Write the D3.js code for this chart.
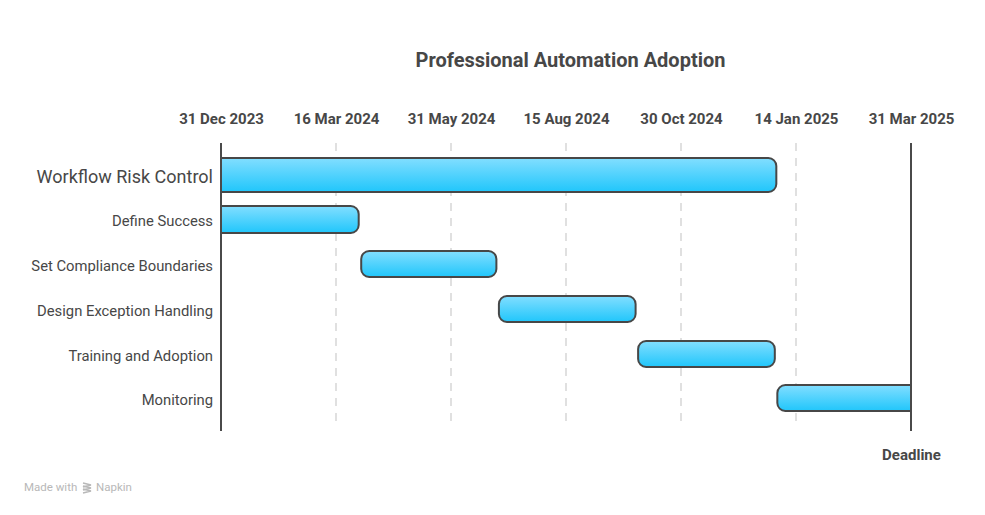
<!DOCTYPE html>
<html><head><meta charset="utf-8">
<script src="https://cdn.jsdelivr.net/npm/d3@7"></script>
<style>body{margin:0;background:#fff;font-family:Roboto,sans-serif}</style>
</head><body>
<svg id="chart" width="985" height="515"></svg>
<script>
const title = "Professional Automation Adoption";
const tasks = ["Workflow Risk Control","Define Success","Set Compliance Boundaries","Design Exception Handling","Training and Adoption","Monitoring"];
const starts = ["2023-12-31","2023-12-31","2024-04-01","2024-07-01","2024-10-01","2025-01-01"];
const ends = ["2025-01-01","2024-03-31","2024-06-30","2024-09-30","2024-12-31","2025-03-31"];
const tickDates = ["2023-12-31","2024-03-16","2024-05-31","2024-08-15","2024-10-30","2025-01-14","2025-03-31"];
const deadlineLabel = "Deadline";

const parse = d3.utcParse("%Y-%m-%d");
const fmt = d3.utcFormat("%-d %b %Y");
const svg = d3.select("#chart");
const domainStart = parse(tickDates[0]), domainEnd = parse(tickDates[tickDates.length-1]);
const x = d3.scaleUtc().domain([domainStart, domainEnd]).range([221, 911]);

const defs = svg.append("defs");
const grad = defs.append("linearGradient").attr("id","barGrad").attr("x1",0).attr("y1",0).attr("x2",0).attr("y2",1);
grad.append("stop").attr("offset","0%").attr("stop-color","#82deff");
grad.append("stop").attr("offset","100%").attr("stop-color","#20c6fb");

svg.append("text").attr("x",570.5).attr("y",67).attr("text-anchor","middle")
  .attr("font-size",20).attr("font-weight",700).attr("fill","#474747").text(title);

// grid lines
const tickVals = tickDates.map(parse);
svg.append("g").selectAll("line").data(tickVals.slice(1,-1)).join("line")
  .attr("x1",d=>x(d)).attr("x2",d=>x(d)).attr("y1",143).attr("y2",428)
  .attr("stroke","#e0e0e0").attr("stroke-width",2).attr("stroke-dasharray","8,7");

// axis tick labels
const axis = d3.axisTop(x).tickValues(tickVals).tickFormat(fmt).tickSize(0).tickPadding(0);
const ag = svg.append("g").attr("transform","translate(0,124)").call(axis);
ag.select(".domain").remove();
ag.selectAll("text").attr("font-family","Roboto,sans-serif").attr("font-size",15)
  .attr("font-weight",700).attr("fill","#474747");

// rows
const rowY = [158,206,251,296,341,385];
const rowH = [34,27,26,26,26,26];

function barPath(x0,x1,y0,h,rl,rr){
  const p = d3.path();
  p.moveTo(x0+rl,y0);
  p.lineTo(x1-rr,y0);
  if(rr) p.arcTo(x1,y0,x1,y0+rr,rr);
  p.lineTo(x1,y0+h-rr);
  if(rr) p.arcTo(x1,y0+h,x1-rr,y0+h,rr);
  p.lineTo(x0+rl,y0+h);
  if(rl) p.arcTo(x0,y0+h,x0,y0+h-rl,rl);
  p.lineTo(x0,y0+rl);
  if(rl) p.arcTo(x0,y0,x0+rl,y0,rl);
  p.closePath();
  return p.toString();
}

const data = tasks.map((t,i)=>({t, s:parse(starts[i]), e:parse(ends[i]), y:rowY[i], h:rowH[i], i}));
svg.append("g").selectAll("path").data(data).join("path")
  .attr("d",d=>{
    const x0 = x(d.s)+ (d.s.getTime()===domainStart.getTime()?0:1);
    const x1 = x(d.e);
    const rl = d.s.getTime()===domainStart.getTime()?0:8;
    const rr = d.e.getTime()===domainEnd.getTime()?0:8;
    return barPath(x0,x1,d.y,d.h,rl,rr);
  })
  .attr("fill","url(#barGrad)").attr("stroke","#474747").attr("stroke-width",2);

svg.append("g").selectAll("text").data(data).join("text")
  .attr("x",213).attr("y",d=>d.y+d.h/2+1.5).attr("dy","0.35em").attr("text-anchor","end")
  .attr("font-size",d=>d.i===0?18:14.8).attr("fill","#474747").text(d=>d.t);

// axis and deadline lines
svg.append("line").attr("x1",x(domainStart)).attr("x2",x(domainStart)).attr("y1",143).attr("y2",431)
  .attr("stroke","#4a4a4a").attr("stroke-width",2);
svg.append("line").attr("x1",x(domainEnd)).attr("x2",x(domainEnd)).attr("y1",143).attr("y2",431)
  .attr("stroke","#4a4a4a").attr("stroke-width",2);
svg.append("text").attr("x",x(domainEnd)+0.5).attr("y",460).attr("text-anchor","middle")
  .attr("font-size",15).attr("font-weight",700).attr("fill","#474747").text(deadlineLabel);

// footer
const f = svg.append("g").attr("fill","#b8b8b8").attr("font-size",11.5);
f.append("text").attr("x",24).attr("y",491).text("Made with");
const lg = svg.append("g").attr("transform","translate(82,481)").attr("stroke","#b8b8b8").attr("stroke-width",1.4).attr("fill","none");
[0,3,6].forEach(o=>lg.append("path").attr("d",`M1,${2+o} L9,${4+o} L1,${6+o}`));
f.append("text").attr("x",96).attr("y",491).text("Napkin");
</script>
</body></html>
